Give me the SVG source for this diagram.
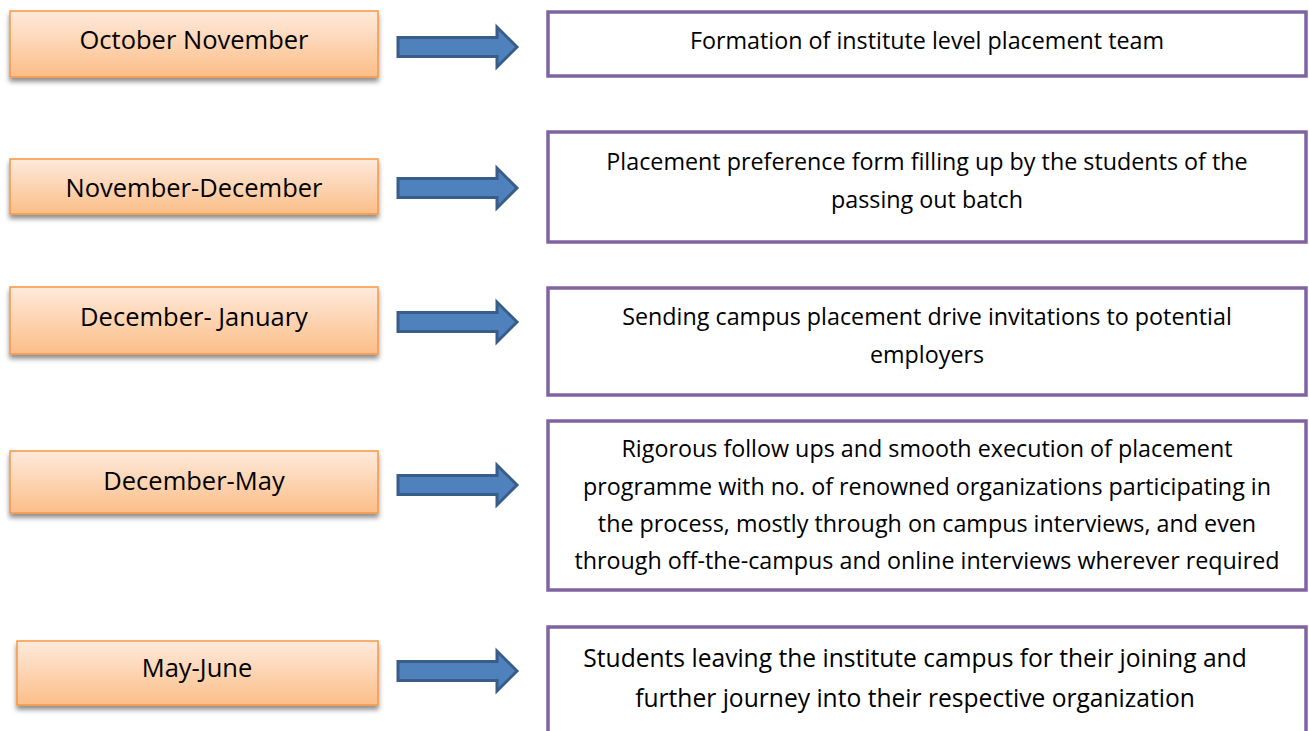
<svg xmlns="http://www.w3.org/2000/svg" width="1309" height="731" viewBox="0 0 1309 731">
<defs>
<linearGradient id="og" x1="0" y1="0" x2="0" y2="1">
<stop offset="0" stop-color="#FEEADC"/>
<stop offset="0.5" stop-color="#FDD4B2"/>
<stop offset="1" stop-color="#FBBE88"/>
</linearGradient>
<filter id="sh" x="-5%" y="-20%" width="110%" height="160%">
<feGaussianBlur in="SourceAlpha" stdDeviation="2.5"/>
<feOffset dx="0" dy="4" result="b"/>
<feComponentTransfer><feFuncA type="linear" slope="0.45"/></feComponentTransfer>
<feMerge><feMergeNode/><feMergeNode in="SourceGraphic"/></feMerge>
</filter>
<path id="arr" d="M0,-9.5 H99 V-20 L119,0 L99,20 V9.5 H0 Z"/>
</defs>
<style>
.ob{fill:url(#og);stroke:#F79646;stroke-width:1.5;filter:url(#sh)}
.pb{fill:#fff;stroke:#8064A2;stroke-width:3.5}
.ar{fill:#4F81BD;stroke:#385D8A;stroke-width:3}
text{font-family:"Open Sans",Lato,"Liberation Sans",sans-serif;fill:#000;text-anchor:middle}
.l{font-size:25.5px}
.r{font-size:23.3px}
.r2{font-size:24.6px}
</style>
<g id="connectors">
<use href="#arr" class="ar" x="398" y="47"/>
<use href="#arr" class="ar" x="398" y="188"/>
<use href="#arr" class="ar" x="398" y="322"/>
<use href="#arr" class="ar" x="398" y="485"/>
<use href="#arr" class="ar" x="398" y="671"/>
</g>
<g id="n1"><rect class="ob" x="10" y="11" width="368" height="66"/><text class="l" x="194" y="49">October November</text></g>
<g id="n2"><rect class="ob" x="10" y="159" width="368" height="55"/><text class="l" x="194" y="197">November-December</text></g>
<g id="n3"><rect class="ob" x="10" y="287" width="368" height="67"/><text class="l" x="194" y="326">December- January</text></g>
<g id="n4"><rect class="ob" x="10" y="451" width="368" height="62"/><text class="l" x="194" y="490">December-May</text></g>
<g id="n5"><rect class="ob" x="17" y="641" width="361" height="64"/><text class="l" x="197" y="677">May-June</text></g>
<g id="d1"><rect class="pb" x="548" y="12" width="758" height="64"/><text class="r" x="927" y="49">Formation of institute level placement team</text></g>
<g id="d2"><rect class="pb" x="548" y="132" width="758" height="110"/><text class="r" x="927" y="170">Placement preference form filling up by the students of the</text><text class="r" x="927" y="208">passing out batch</text></g>
<g id="d3"><rect class="pb" x="548" y="288" width="758" height="107"/><text class="r" x="927" y="325">Sending campus placement drive invitations to potential</text><text class="r" x="927" y="363">employers</text></g>
<g id="d4"><rect class="pb" x="548" y="421" width="758" height="169"/><text class="r" x="927" y="457">Rigorous follow ups and smooth execution of placement</text><text class="r" x="927" y="495">programme with no. of renowned organizations participating in</text><text class="r" x="927" y="532">the process, mostly through on campus interviews, and even</text><text class="r" x="927" y="569">through off-the-campus and online interviews wherever required</text></g>
<g id="d5"><rect class="pb" x="548" y="627" width="758" height="120"/><text class="r2" x="915" y="667">Students leaving the institute campus for their joining and</text><text class="r2" x="915" y="707">further journey into their respective organization</text></g>
</svg>
